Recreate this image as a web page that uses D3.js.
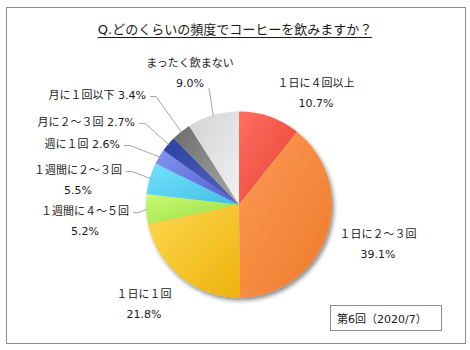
<!DOCTYPE html>
<html>
<head>
<meta charset="utf-8">
<script src="https://cdn.jsdelivr.net/npm/d3@7"></script>
<style>
  body { margin: 0; background: #fff; }
  text { font-family: "DejaVu Sans", "Noto Sans CJK JP", sans-serif; fill: #1a1a1a; }
</style>
</head>
<body>
<div id="chart"></div>
<script>
// data
var categories = ["１日に４回以上", "１日に２～３回", "１日に１回", "１週間に４～５回",
                  "１週間に２～３回", "週に１回", "月に２～３回", "月に１回以下", "まったく飲まない"];
var values = [10.7, 39.1, 21.8, 5.2, 5.5, 2.6, 2.7, 3.4, 9.0];
var title = "Q.どのくらいの頻度でコーヒーを飲みますか？";
var note = "第6回（2020/7）";

// styles: gradient light -> dark
var colorsA = ["#ff6e64", "#fd9a56", "#fdd850", "#c6fa74", "#72e2fc", "#8494f0", "#2c42a0", "#6c6c6c", "#d2d2d2"];
var colorsB = ["#e4432c", "#ee7a2a", "#eeb20c", "#9edc40", "#44bee6", "#4c5cd0", "#5464c0", "#a8a8a8", "#f2f2f2"];

// label layout: [x, y, anchor, twoLines, leader]
var labelLayout = [
  [316, 87, "middle", true, false],
  [378, 238, "middle", true, false],
  [144, 298, "middle", true, false],
  [85, 215, "middle", true, true],
  [78, 174, "middle", true, true],
  [120, 148, "end", false, true],
  [135, 126, "end", false, true],
  [146, 99, "end", false, true],
  [190, 67, "middle", true, true]
];

var W = 470, H = 350;
var cx = 239, cy = 204.5, r = 93;

var svg = d3.select("#chart").append("svg")
  .attr("width", W).attr("height", H);

var defs = svg.append("defs");
var f = defs.append("filter").attr("id", "shadow")
  .attr("x", "-20%").attr("y", "-20%").attr("width", "140%").attr("height", "140%");
f.append("feGaussianBlur").attr("in", "SourceAlpha").attr("stdDeviation", 2).attr("result", "b");
f.append("feOffset").attr("in", "b").attr("dx", 2).attr("dy", 3).attr("result", "o");
f.append("feComponentTransfer").attr("in", "o").attr("result", "o2")
  .append("feFuncA").attr("type", "linear").attr("slope", 0.45);
var m = f.append("feMerge");
m.append("feMergeNode").attr("in", "o2");
m.append("feMergeNode").attr("in", "SourceGraphic");

values.forEach(function(v, i) {
  var g = defs.append("linearGradient").attr("id", "g" + i)
    .attr("x1", 0).attr("y1", 0).attr("x2", 1).attr("y2", 1);
  g.append("stop").attr("offset", "0%").attr("stop-color", colorsA[i]);
  g.append("stop").attr("offset", "100%").attr("stop-color", colorsB[i]);
});

// frame
svg.append("rect")
  .attr("x", 6.5).attr("y", 7.5).attr("width", 459).attr("height", 336)
  .attr("fill", "#fff").attr("stroke", "#8c8c8c").attr("stroke-width", 1);

// title
var t = svg.append("text")
  .attr("x", 235).attr("y", 34)
  .attr("text-anchor", "middle")
  .attr("font-size", 13)
  .text(title);
var tb = t.node().getBBox();
svg.append("line")
  .attr("x1", tb.x).attr("x2", tb.x + tb.width)
  .attr("y1", 37.5).attr("y2", 37.5)
  .attr("stroke", "#1a1a1a").attr("stroke-width", 1);

// pie
var pie = d3.pie().sort(null).value(function(d) { return d; });
var arcs = pie(values);
var arc = d3.arc().innerRadius(0).outerRadius(r);

var pg = svg.append("g")
  .attr("transform", "translate(" + cx + "," + cy + ")")
  .attr("filter", "url(#shadow)");

pg.selectAll("path")
  .data(arcs)
  .enter().append("path")
  .attr("d", arc)
  .attr("fill", function(d, i) { return "url(#g" + i + ")"; });

// labels
var lg = svg.append("g");
arcs.forEach(function(d, i) {
  var L = labelLayout[i];
  var txt = lg.append("text")
    .attr("x", L[0]).attr("y", L[1])
    .attr("text-anchor", L[2])
    .attr("font-size", 11);
  var pct = values[i].toFixed(1) + "%";
  if (L[3]) {
    txt.text(categories[i]);
    lg.append("text")
      .attr("x", L[0]).attr("y", L[1] + 19.5)
      .attr("text-anchor", L[2])
      .attr("font-size", 11)
      .text(pct);
  } else {
    txt.text(categories[i] + " " + pct);
  }
  if (L[4]) {
    var a = (d.startAngle + d.endAngle) / 2;
    var px = cx + Math.sin(a) * (r - 1), py = cy - Math.cos(a) * (r - 1);
    var pts;
    var b = txt.node().getBBox();
    if (i == 8) {
      pts = [[L[0] + 19, L[1] + 21], [px, py]];
    } else {
      var sx = b.x + b.width + 4, sy = b.y + b.height / 2 + 1;
      pts = [[sx, sy], [sx + 6, sy], [px, py]];
    }
    svg.append("path")
      .attr("d", d3.line()(pts))
      .attr("fill", "none")
      .attr("stroke", "#a6a6a6")
      .attr("stroke-width", 1);
  }
});

// note box
svg.append("rect")
  .attr("x", 330.5).attr("y", 305.5).attr("width", 111).attr("height", 25)
  .attr("fill", "#fff").attr("stroke", "#8c8c8c").attr("stroke-width", 1);
svg.append("text")
  .attr("x", 337).attr("y", 323)
  .attr("font-size", 11)
  .text(note);
</script>
</body>
</html>
